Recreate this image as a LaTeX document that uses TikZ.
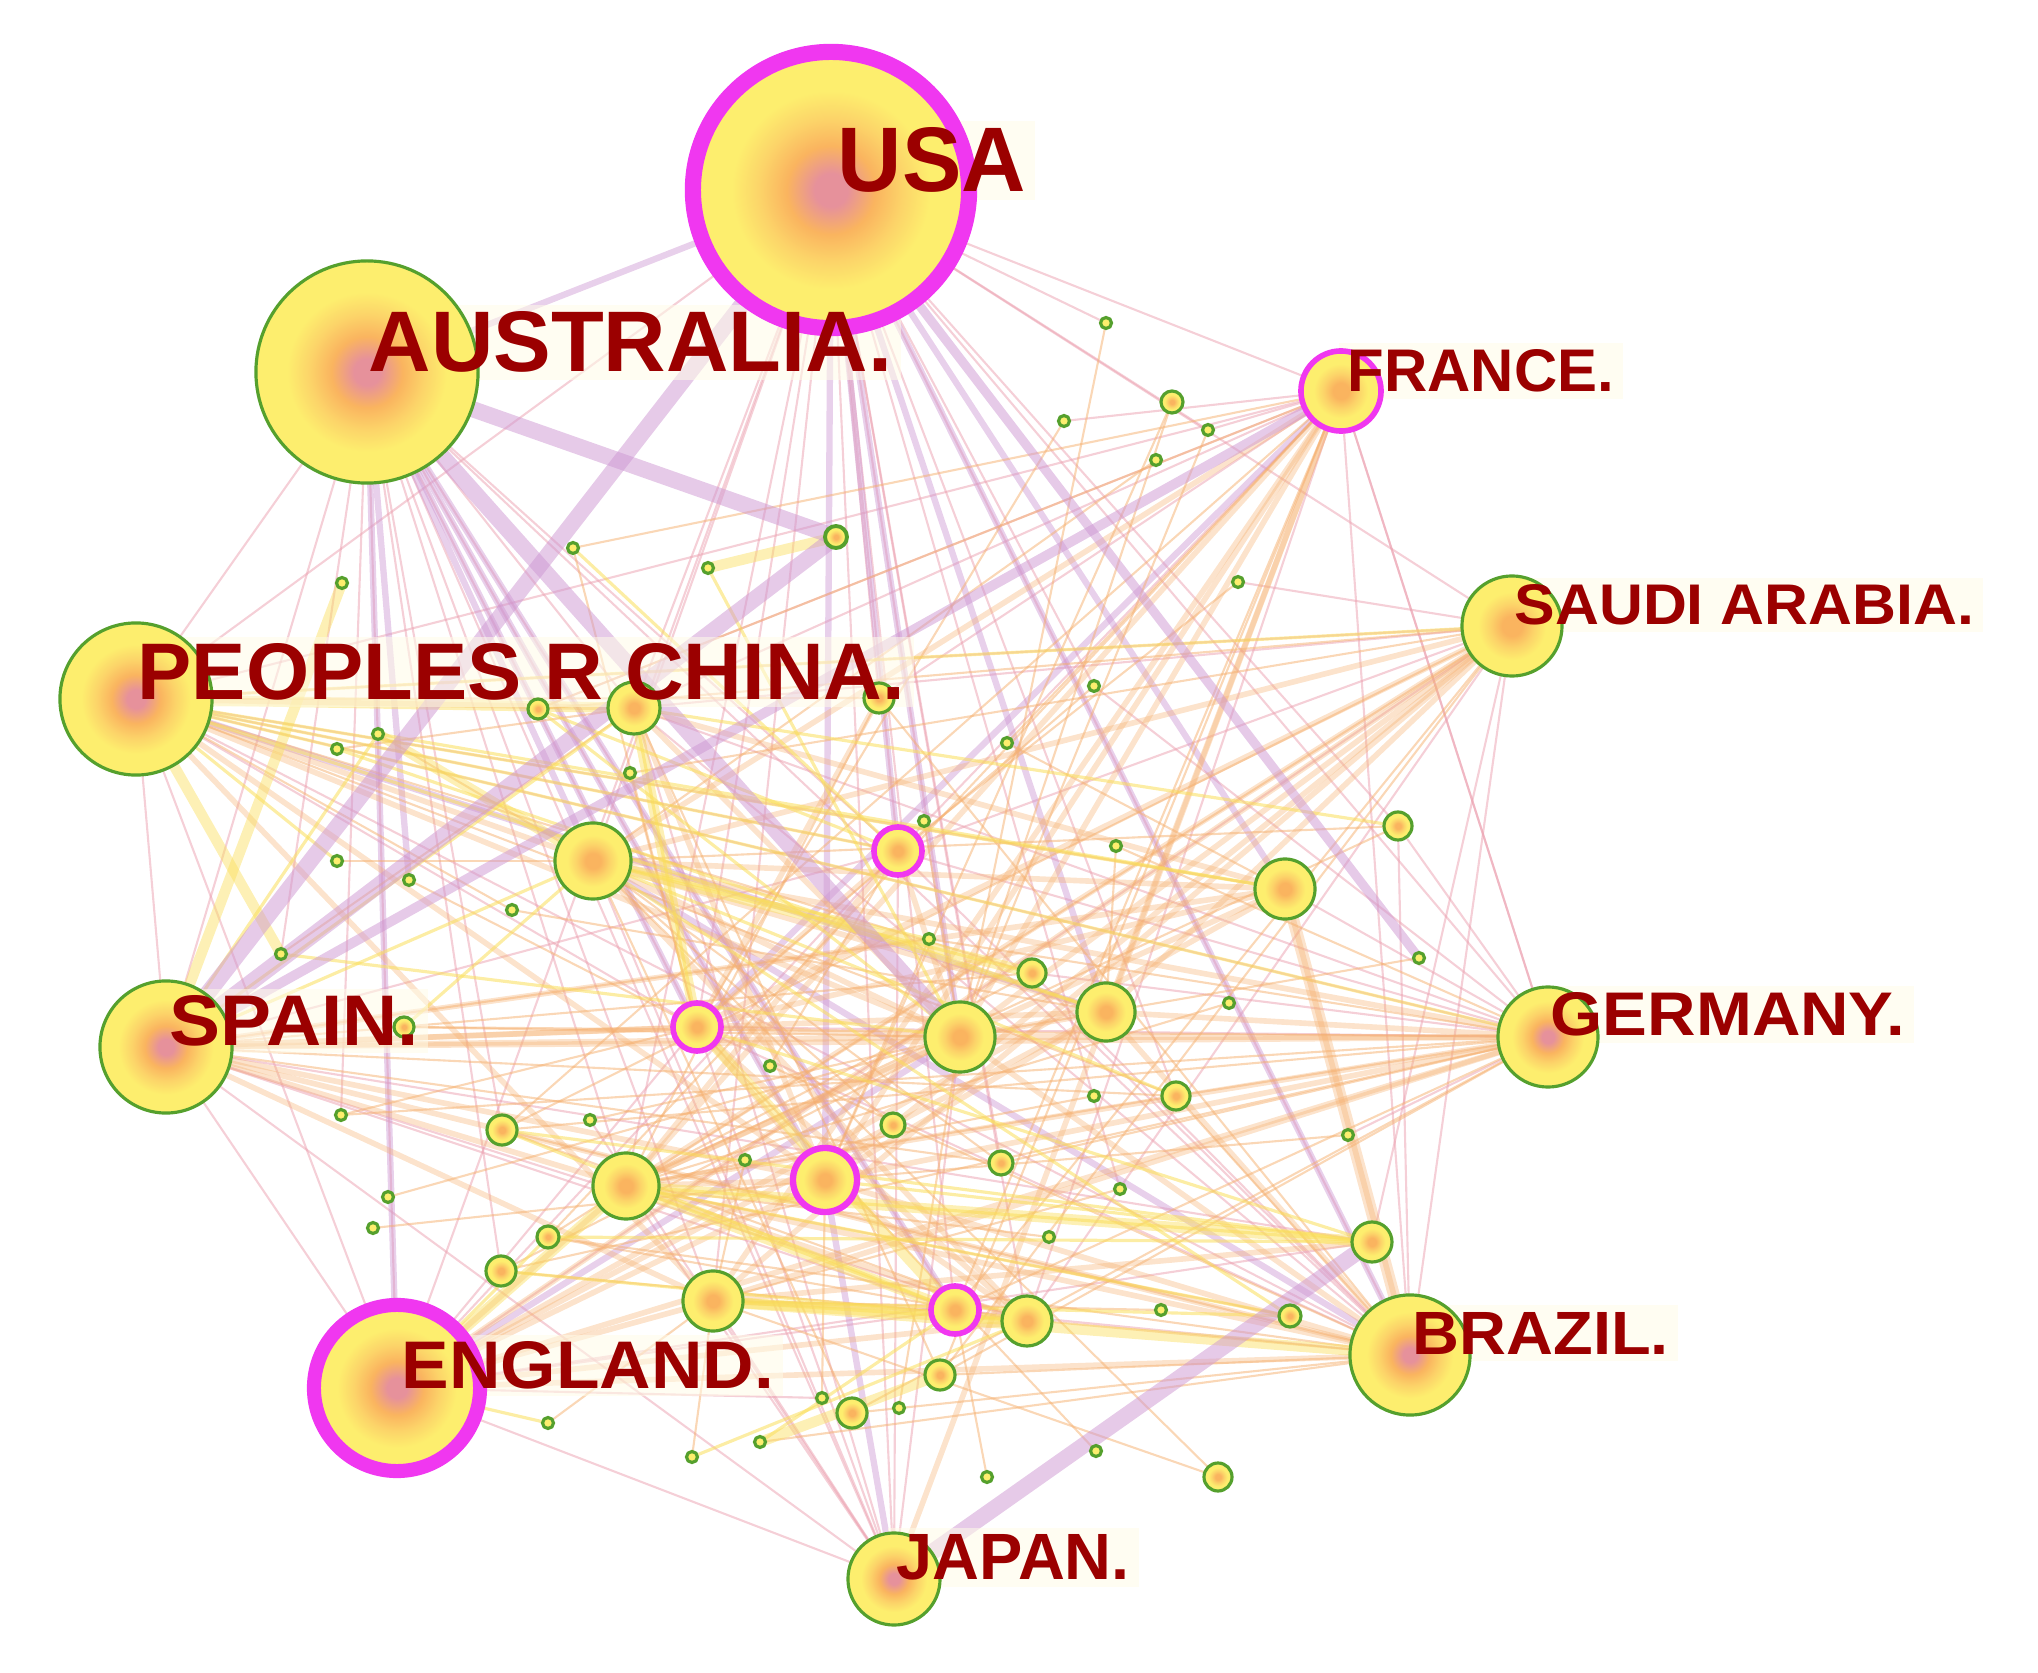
\documentclass[tikz,border=0pt]{standalone}
\usepackage{fontspec}
\setmainfont{Liberation Sans}
\usepackage{graphicx}
\pgfdeclarelayer{bg}
\pgfdeclarelayer{lblbg}
\pgfsetlayers{bg,lblbg,main}
\definecolor{cyel}{RGB}{253,238,110}
\definecolor{clor}{RGB}{252,212,105}
\definecolor{cor}{RGB}{250,180,95}
\definecolor{cpk}{RGB}{230,145,155}
\definecolor{cgreen}{RGB}{85,160,45}
\definecolor{cmag}{RGB}{240,55,240}
\definecolor{clab}{RGB}{155,0,0}
\definecolor{ccream}{RGB}{255,251,232}
\definecolor{epur}{RGB}{205,150,210}
\definecolor{epink}{RGB}{235,160,175}
\definecolor{eora}{RGB}{245,175,110}
\definecolor{eyel}{RGB}{250,222,90}
\pgfdeclareradialshading{citesh}{\pgfpoint{0bp}{0bp}}{color(0bp)=(cpk); color(3bp)=(cpk); color(8bp)=(cor); color(13bp)=(clor); color(18bp)=(cyel); color(50bp)=(cyel)}
\pgfdeclareradialshading{citesm}{\pgfpoint{0bp}{0bp}}{color(0bp)=(cor); color(5bp)=(cor); color(11bp)=(clor); color(17bp)=(cyel); color(50bp)=(cyel)}
\tikzset{
  bignode/.style={circle, inner sep=0pt, shading=citesh},
  midnode/.style={circle, inner sep=0pt, shading=citesm},
  tinynode/.style={circle, inner sep=0pt, fill=cyel, draw=cgreen, line width=0.9pt, minimum size=0.11cm},
  lbl/.style={anchor=base west, inner xsep=0.08cm, inner ysep=0.06cm, text=clab, font=\bfseries},
  lblfill/.style={fill=ccream, opacity=0.55},
  tpur/.style={draw=epur, line width=4.6pt, opacity=0.5},
  mpur/.style={draw=epur, line width=1.8pt, opacity=0.45},
  tpink/.style={draw=epink, line width=0.6pt, opacity=0.5},
  mora/.style={draw=eora, line width=1.6pt, opacity=0.35},
  tora/.style={draw=eora, line width=0.6pt, opacity=0.5},
  tyel/.style={draw=eyel, line width=3pt, opacity=0.45},
  yel/.style={draw=eyel, line width=0.9pt, opacity=0.55},
}
% name, x, y, r(px), ring colour, ring width
\newcommand\bn[6]{\node[bignode, draw=#5, line width=#6, minimum size={#4*0.02cm}] (#1) at (#2,#3) {};}
\newcommand\mn[6]{\node[midnode, draw=#5, line width=#6, minimum size={#4*0.02cm}] (#1) at (#2,#3) {};}
\newcommand\tn[3]{\node[tinynode] (#1) at (#2,#3) {};}
\newcommand\lb[6]{\node[lbl] (#1) at (#2-8,#3) {\resizebox{#4cm}{#5cm}{#6}};}
\begin{document}
\begin{tikzpicture}[x=0.01cm, y=-0.01cm]
\useasboundingbox (0,0) rectangle (2038,1673);
% ---------------- major nodes
\bn{usa}{831}{190}{138}{cmag}{4.6pt}
\bn{aus}{367}{372}{111}{cgreen}{0.9pt}
\bn{chn}{136}{699}{76}{cgreen}{0.9pt}
\bn{spa}{166}{1047}{66}{cgreen}{0.9pt}
\bn{eng}{397}{1388}{83}{cmag}{4pt}
\bn{jpn}{894}{1579}{46}{cgreen}{0.9pt}
\bn{bra}{1410}{1355}{60}{cgreen}{0.9pt}
\bn{ger}{1548}{1037}{50}{cgreen}{0.9pt}
\mn{sau}{1512}{626}{50}{cgreen}{0.9pt}
\mn{fra}{1341}{391}{40}{cmag}{1.6pt}
% ---------------- medium nodes
\mn{m1}{836}{537}{11}{cgreen}{1.1pt}
\mn{m2}{634}{708}{26}{cgreen}{0.9pt}
\mn{m3}{538}{709}{10}{cgreen}{0.9pt}
\mn{m4}{879}{698}{15}{cgreen}{0.9pt}
\mn{m5}{593}{861}{38}{cgreen}{0.9pt}
\mn{m6}{898}{851}{24}{cmag}{1.6pt}
\mn{m7}{1285}{889}{30}{cgreen}{0.9pt}
\mn{m8}{1398}{826}{14}{cgreen}{0.9pt}
\mn{m9}{697}{1027}{24}{cmag}{1.6pt}
\mn{m10}{960}{1037}{35}{cgreen}{0.9pt}
\mn{m11}{1106}{1012}{29}{cgreen}{0.9pt}
\mn{m12}{1032}{973}{14}{cgreen}{0.9pt}
\mn{m13}{1176}{1096}{14}{cgreen}{0.9pt}
\mn{m14}{404}{1027}{10}{cgreen}{0.9pt}
\mn{m15}{502}{1130}{15}{cgreen}{0.9pt}
\mn{m16}{893}{1125}{12}{cgreen}{0.9pt}
\mn{m17}{626}{1186}{33}{cgreen}{0.9pt}
\mn{m18}{825}{1180}{32}{cmag}{1.8pt}
\mn{m19}{1001}{1163}{12}{cgreen}{0.9pt}
\mn{m20}{548}{1237}{11}{cgreen}{0.9pt}
\mn{m21}{501}{1271}{15}{cgreen}{0.9pt}
\mn{m22}{713}{1301}{30}{cgreen}{0.9pt}
\mn{m23}{955}{1310}{24}{cmag}{1.6pt}
\mn{m24}{1027}{1321}{25}{cgreen}{0.9pt}
\mn{m25}{1372}{1242}{20}{cgreen}{0.9pt}
\mn{m26}{1290}{1316}{11}{cgreen}{0.9pt}
\mn{m27}{940}{1375}{15}{cgreen}{0.9pt}
\mn{m28}{852}{1413}{15}{cgreen}{0.9pt}
\mn{m29}{1218}{1477}{14}{cgreen}{0.9pt}
\mn{m30}{1172}{402}{11}{cgreen}{0.9pt}
% ---------------- tiny nodes
\tn{t1}{1106}{323}\tn{t2}{1064}{421}\tn{t3}{1208}{430}\tn{t4}{1156}{460}
\tn{t5}{1238}{582}\tn{t6}{573}{548}\tn{t7}{708}{568}\tn{t8}{342}{583}
\tn{t9}{378}{734}\tn{t10}{337}{749}\tn{t11}{630}{773}\tn{t12}{1094}{686}
\tn{t13}{1007}{743}\tn{t14}{924}{821}\tn{t15}{1116}{846}\tn{t16}{337}{861}
\tn{t17}{409}{880}\tn{t18}{512}{910}\tn{t19}{281}{954}\tn{t20}{929}{939}
\tn{t21}{1419}{958}\tn{t22}{1229}{1003}\tn{t23}{770}{1066}\tn{t24}{341}{1115}
\tn{t25}{590}{1120}\tn{t26}{745}{1160}\tn{t27}{1094}{1096}\tn{t28}{1348}{1135}
\tn{t29}{1120}{1189}\tn{t30}{388}{1197}\tn{t31}{373}{1228}\tn{t32}{1049}{1237}
\tn{t33}{1161}{1310}\tn{t34}{822}{1398}\tn{t35}{899}{1408}\tn{t36}{548}{1423}
\tn{t37}{760}{1442}\tn{t38}{692}{1457}\tn{t39}{987}{1477}\tn{t40}{1096}{1451}
% ---------------- labels
\lb{lusa}{837}{192}{1.88}{0.64}{USA}
\lb{laus}{368}{372}{5.23}{0.60}{AUSTRALIA.}
\lb{lchn}{137}{700}{7.67}{0.56}{PEOPLES R CHINA.}
\lb{lspa}{169}{1046}{2.49}{0.50}{SPAIN.}
\lb{leng}{401}{1389}{3.72}{0.47}{ENGLAND.}
\lb{ljpn}{896}{1580}{2.33}{0.45}{JAPAN.}
\lb{lfra}{1347}{392}{2.66}{0.42}{FRANCE.}
\lb{lsau}{1514}{625}{4.59}{0.40}{SAUDI ARABIA.}
\lb{lger}{1550}{1036}{3.54}{0.43}{GERMANY.}
\lb{lbra}{1412}{1354}{2.56}{0.42}{BRAZIL.}
% faint cream behind labels, under the nodes
\begin{pgfonlayer}{lblbg}
\foreach \l in {lusa,laus,lchn,lspa,leng,ljpn,lfra,lsau,lger,lbra}
  \fill[lblfill] (\l.south west) rectangle (\l.north east);
\end{pgfonlayer}
% ---------------- edges
\begin{pgfonlayer}{bg}
% thin pink / purple lines
\foreach \a/\b in {usa/bra,usa/ger,usa/jpn,usa/m10,usa/m6,usa/eng,usa/chn,usa/m23,usa/m24,usa/m22,usa/sau,usa/fra,usa/m4,usa/t12,usa/m9,usa/m17,usa/m5,usa/m2,usa/t1,usa/t3,usa/m8,usa/m13,usa/m19,usa/t29,
  aus/eng,aus/spa,aus/chn,aus/m9,aus/m18,aus/bra,aus/m22,aus/t19,aus/m21,aus/jpn,aus/m17,aus/m15,aus/m6,aus/m23,aus/t24,aus/m2,
  chn/m7,chn/ger,chn/sau,chn/fra,chn/eng,chn/spa,chn/bra,chn/m6,chn/m9,
  spa/jpn,spa/m24,spa/m6,spa/eng,spa/m23,spa/m25,
  eng/jpn,eng/m25,eng/m23,eng/sau,eng/t34,eng/m9,eng/m6,
  jpn/m9,jpn/m5,jpn/m10,jpn/m22,jpn/m17,jpn/m2,jpn/t25,jpn/m6,
  bra/m2,bra/m23,bra/m9,bra/m12,bra/m8,bra/m6,
  ger/m6,ger/m2,ger/fra,ger/m7,ger/t12,ger/m12,ger/m9,ger/m8,ger/t28,
  sau/bra,sau/m2,sau/m24,sau/m6,sau/t5,sau/m25,
  fra/bra,fra/m24,fra/m4,fra/m6,fra/ger,fra/t2,fra/t3,fra/m3,fra/m2}
  \draw[tpink] (\a.center) -- (\b.center);
% medium purple lines
\foreach \a/\b in {usa/bra,usa/m7,usa/m11,usa/m18,usa/aus,aus/m5,aus/eng,aus/m9,aus/m18,aus/m23,chn/m11,eng/m10,jpn/m18,usa/m10,fra/m9,usa/m6,bra/m5,aus/t17}
  \draw[mpur] (\a.center) -- (\b.center);
% orange lines, medium
\foreach \a/\b in {fra/m10,fra/m18,fra/m22,fra/m5,fra/m17,fra/m11,fra/jpn,
  sau/m5,sau/m17,sau/m9,sau/m10,sau/m18,sau/m22,sau/m11,sau/eng,
  ger/spa,ger/m10,ger/m18,ger/m17,ger/eng,ger/m5,ger/m22,ger/m11,
  bra/m7,bra/m11,bra/m10,bra/eng,bra/spa,bra/m17,bra/m18,
  spa/m10,spa/m18,spa/m22,spa/m11,spa/m9,spa/m17,spa/m7,
  chn/m5,chn/m10,chn/m18,chn/m22,chn/m2,
  eng/m11,eng/m7,eng/m24,eng/m22,eng/m17,eng/m18,
  m5/m10,m5/m11,m5/m7,m2/m10,m2/m18,m9/m10,m9/m18,m17/m18,m17/m24,m22/m23,m10/m11,m18/m24,m6/m10,m6/m9,m6/m17,m4/m9,m11/m18,m7/m17,m7/m9,m25/m22,m2/m7,m5/m24,m9/m24,m10/m17}
  \draw[mora] (\a.center) -- (\b.center);
% orange thin
\foreach \a/\b in {fra/m3,fra/t6,fra/m15,fra/m20,fra/m23,fra/m27,fra/t13,sau/m15,sau/m20,sau/m3,sau/m23,sau/m27,sau/t11,
  ger/m14,ger/m15,ger/t24,ger/m21,ger/m23,ger/m27,ger/m28,ger/t20,ger/m13,ger/m19,ger/t15,
  bra/m15,bra/m20,bra/m21,bra/m27,bra/m28,bra/t23,bra/m4,bra/t37,bra/m13,
  spa/t20,spa/m19,spa/m13,spa/m12,chn/m12,chn/m4,chn/m13,chn/t18,
  m12/m17,m13/m17,m8/m17,m8/m5,m26/m17,m29/m22,m29/m5,m30/m10,m30/m18,m4/m17,m14/m10,m15/m24,m16/m5,m19/m5,m20/m24,m21/m10,m27/m2,m28/m5,
  t2/m9,t3/m10,t4/m5,t1/m10,t5/m6,t6/m9,t11/m9,t13/m7,t14/m10,t15/m11,t16/m5,t17/m9,t19/m2,t20/m18,t21/m10,t22/m17,t23/m6,t24/m9,t25/m10,t26/m22,t27/m17,t28/m18,t29/m22,t30/m10,t31/m18,t32/m17,t33/m22,t34/m18,t35/m10,t36/m22,t38/m22,t39/m23,t40/m9,t10/m2,t12/m9,t9/m5,t18/m11}
  \draw[tora] (\a.center) -- (\b.center);
% yellow lines
\foreach \a/\b in {chn/m7,chn/ger,chn/sau,chn/m11,chn/m6,spa/m5,spa/m2,spa/t9,m5/m12,m2/m9,m17/m25,m18/m25,m22/m24,m17/m23,m3/m10,m5/m13,t37/m23,t38/m24,m15/m23,m21/m24,eng/m20,eng/t36,chn/t16,t19/m10,m14/m5,t9/m7,t10/m11,m5/t20,m3/m6,t6/m6,t7/m10,m2/m8,m9/m25,m22/m26,m5/m26,m17/m26,m20/m25,m15/m25}
  \draw[yel] (\a.center) -- (\b.center);
% thick yellow
\foreach \a/\b in {t8/spa,m1/t7,chn/m2,m22/m24,m17/m23,t37/m27,m5/m12,eng/m17,t9/m5,m17/m25,m2/m9,m22/bra,chn/t19,m9/m23}
  \draw[tyel] (\a.center) -- (\b.center);
% thick purple
\foreach \a/\b in {aus/m1,usa/spa,m1/spa,aus/m10,jpn/m25}
  \draw[tpur] (\a.center) -- (\b.center);
\draw[tpur, line width=2.8pt] (fra.center) -- (spa.center);
\draw[tpur, line width=2.6pt] (usa.center) -- (t21.center);
\draw[mora, line width=3.4pt] (m7.center) -- (bra.center);
\end{pgfonlayer}
\end{tikzpicture}
\end{document}
